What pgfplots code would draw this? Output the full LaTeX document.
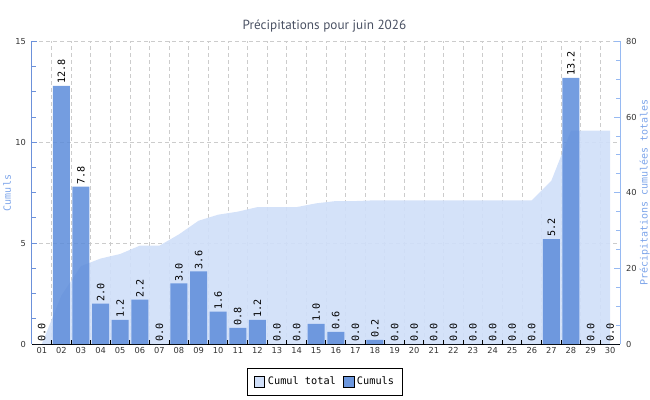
\documentclass[border=0pt]{standalone}
\usepackage{pgfplots}
\pgfplotsset{compat=1.18}
\usepackage{fontspec}
\setmainfont{DejaVu Sans}
\newfontfamily\titlefont{PT Sans}
\newfontfamily\monofont{DejaVu Sans Mono}
\newfontfamily\tickfont{DejaVu Sans}
\definecolor{areacol}{RGB}{208,223,249}
\definecolor{barcol}{RGB}{92,140,218}
\definecolor{gridcol}{RGB}{204,204,204}
\definecolor{leftaxcol}{RGB}{108,145,218}
\definecolor{rightaxcol}{RGB}{150,185,242}
\definecolor{labcol}{RGB}{125,165,234}
\definecolor{titlecol}{RGB}{74,81,99}
\definecolor{tickcol}{RGB}{51,51,51}
\pgfplotsset{
  common/.style={
    scale only axis, width=441pt, height=226.9pt,
    xmin=0.5, xmax=30.5,
    /pgf/number format/assume math mode=true,
    ticklabel style={font=\tickfont\fontsize{6.2}{7}\selectfont, text=tickcol},
  },
  mylegend/.style={legend image code/.code={\draw[##1,draw=black,line width=0.6pt] (0pt,-4.1pt) rectangle (8.2pt,4.1pt);}},
}
\begin{document}
\begin{tikzpicture}
\useasboundingbox (-24pt,-42pt) rectangle (463.5pt,258pt);
% grid
\begin{axis}[common, ymin=0, ymax=15,
  axis line style={draw=none},
  xtick={1.5,2.5,...,29.5}, ytick={5,10,15},
  xticklabels={}, yticklabels={}, major tick length=0pt,
  xmajorgrids, ymajorgrids,
  major grid style={gridcol, line width=0.75pt, dash pattern=on 3pt off 2.25pt}]
\addplot[draw=none] coordinates {(1,0)};
\end{axis}
% cumulative area, right axis
\begin{axis}[common, ymin=0, ymax=80,
  axis y line*=right, axis x line=none,
  ytick={0,20,40,60,80}, minor y tick num=3,
  y axis line style={rightaxcol, line width=0.75pt, -},
  ytick style={rightaxcol, line width=0.75pt},
  tick align=inside, major tick length=4.5pt, minor tick length=3pt,
  yticklabel style={xshift=1pt}]
\addplot[fill=areacol, draw=none, fill opacity=0.92] coordinates {
(1,0) (2,12.8) (3,20.6) (4,22.6) (5,23.8) (6,26.0) (7,26.0) (8,29.0) (9,32.6) (10,34.2)
(11,35.0) (12,36.2) (13,36.2) (14,36.2) (15,37.2) (16,37.8) (17,37.8) (18,38.0) (19,38.0) (20,38.0)
(21,38.0) (22,38.0) (23,38.0) (24,38.0) (25,38.0) (26,38.0) (27,43.2) (28,56.4) (29,56.4) (30,56.4)
} \closedcycle;
\end{axis}
% bars, left axis, bottom axis
\begin{axis}[common, ymin=0, ymax=15, clip=false,
  axis x line*=bottom, axis y line*=left,
  x axis line style={black, line width=0.75pt, -},
  y axis line style={leftaxcol, line width=0.75pt, -},
  xtick={1,...,30},
  xticklabels={01,02,03,04,05,06,07,08,09,10,11,12,13,14,15,16,17,18,19,20,21,22,23,24,25,26,27,28,29,30},
  every major x tick/.style={draw=none},
  minor xtick={1.5,2.5,...,29.5},
  every minor x tick/.style={black, line width=0.75pt},
  ytick={0,5,10,15}, minor y tick num=3,
  ytick style={leftaxcol, line width=0.75pt},
  tick align=inside, major tick length=4pt, minor tick length=3pt,
  xticklabel style={yshift=1pt},
  yticklabel style={xshift=-1pt},
  legend columns=2,
  legend style={at={(0.4985,-0.124)}, anchor=center, draw=black, line width=0.6pt,
    font=\monofont\fontsize{7.7}{9}\selectfont, inner xsep=4.5pt, inner ysep=4.5pt,
    /tikz/every even column/.append style={column sep=3pt}},
  legend cell align=left]
\addlegendimage{mylegend, fill=areacol}
\addlegendentry{Cumul total}
\addlegendimage{mylegend, fill=barcol!90}
\addlegendentry{Cumuls}
\addplot[ybar, bar width=12.75pt, fill=barcol, fill opacity=0.85, draw=none, forget plot,
  point meta=y,
  nodes near coords={\pgfmathprintnumber[fixed,fixed zerofill,precision=1,assume math mode=true]{\pgfplotspointmeta}},
  every node near coord/.append style={rotate=90, anchor=west, font=\monofont\fontsize{7.6}{8}\selectfont, text=black, fill opacity=1, text opacity=1, inner sep=1.5pt}]
coordinates {
(1,0.0) (2,12.8) (3,7.8) (4,2.0) (5,1.2) (6,2.2) (7,0.0) (8,3.0) (9,3.6) (10,1.6)
(11,0.8) (12,1.2) (13,0.0) (14,0.0) (15,1.0) (16,0.6) (17,0.0) (18,0.2) (19,0.0) (20,0.0)
(21,0.0) (22,0.0) (23,0.0) (24,0.0) (25,0.0) (26,0.0) (27,5.2) (28,13.2) (29,0.0) (30,0.0)
};
\end{axis}
\node[font=\titlefont\fontsize{9.9}{11}\selectfont, text=titlecol] at (219.4pt,238.5pt) {Précipitations pour juin 2026};
\node[rotate=90, font=\monofont\fontsize{7.5}{9}\selectfont, text=labcol] at (-18.75pt,113.25pt) {Cumuls};
\node[rotate=90, font=\monofont\fontsize{7.5}{9}\selectfont, text=labcol] at (459.5pt,113.6pt) {Précipitations cumulées totales};
\end{tikzpicture}
\end{document}
